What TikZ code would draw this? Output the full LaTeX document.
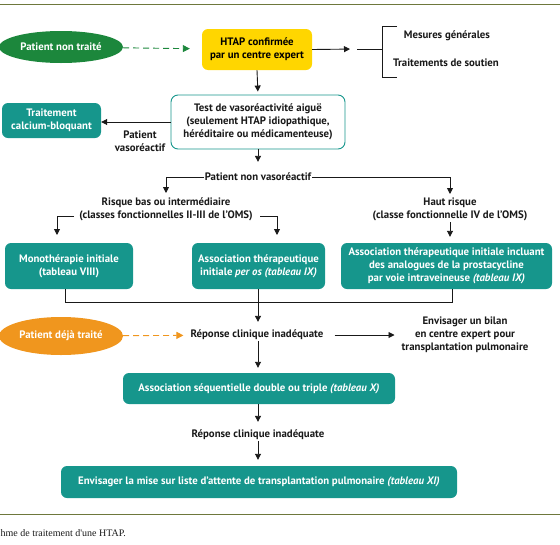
\documentclass[tikz,border=0pt]{standalone}
\usepackage{fontspec}
\setmainfont{PT Sans}
\newfontfamily\capfont{Liberation Serif}
\usetikzlibrary{shapes.geometric,arrows.meta}
\definecolor{teal}{RGB}{22,150,140}
\definecolor{htapyel}{RGB}{255,214,0}
\definecolor{dgreen}{RGB}{28,135,60}
\definecolor{orng}{RGB}{240,150,30}
\definecolor{olive}{RGB}{110,120,60}
\definecolor{ink}{RGB}{25,25,25}
\tikzset{
  base/.style={font=\bfseries\fontsize{10.8}{13}\selectfont, align=center, inner sep=1pt},
  tealbox/.style={base, fill=teal, text=white, rounded corners=6pt},
  lbl/.style={base, text=ink},
  ell/.style={base, ellipse, text=white, minimum width=124pt},
  conn/.style={draw=ink, line width=0.9pt, -{Triangle[length=6pt,width=6pt]}},
  plain/.style={draw=ink, line width=0.9pt},
}
\begin{document}
\begin{tikzpicture}[x=1pt,y=-1pt]
\useasboundingbox (0,0) rectangle (560,544);
\draw[olive, line width=0.8pt] (0,4) -- (560,4);
\draw[olive, line width=0.8pt] (0,514) -- (560,514);
\node[anchor=west, inner sep=0pt, font=\capfont\fontsize{10}{12}\selectfont, text=ink] (cap) at (0.5,533) {hme de traitement d'une HTAP.};

% top row
\node[ell, fill=dgreen, minimum height=32pt] (pnt) at (61,47) {Patient non traité};
\node[base, fill=htapyel, rounded corners=6pt, minimum width=110pt, minimum height=41pt] (htap) at (257,49.5) {HTAP confirmée\\par un centre expert};
\draw[draw=dgreen, line width=0.9pt, dashed, dash pattern=on 6pt off 4pt, -{Triangle[length=7pt,width=7pt]}, shorten >=12pt] (pnt) -- (htap);
\coordinate (brk) at (357,49);
\draw[conn, shorten >=7pt] (htap.east) -- (brk);
\draw[plain] (brk) -- (382,49);
\draw[plain] (397,26) -- (382,26) -- (382,77) -- (397,77);
\node[lbl] (mes) at (447,36) {Mesures générales};
\node[lbl] (sout) at (446,63) {Traitements de soutien};

% test
\node[base, draw=teal, line width=0.9pt, fill=white, rounded corners=7pt, minimum width=174pt, minimum height=54pt, text=ink] (test) at (258,122) {Test de vasoréactivité aiguë\\(seulement HTAP idiopathique,\\héréditaire ou médicamenteuse)};
\draw[conn, shorten >=3pt] (htap.south) -- (test.north);
\node[tealbox, minimum width=99pt, minimum height=35pt] (ccb) at (51.5,120.5) {Traitement\\calcium-bloquant};
\draw[conn] (test.west |- 0,122) -- (ccb.east |- 0,122);
\node[lbl] (pva) at (140,141) {Patient\\vasoréactif};

\node[lbl] (pnv) at (258,177) {Patient non vasoréactif};
\draw[conn, shorten >=10pt] (test.south) -- (pnv.north);

\node[lbl] (low) at (166,209.5) {Risque bas ou intermédiaire\\(classes fonctionnelles II-III de l'OMS)};
\node[lbl] (high) at (450,209.5) {Haut risque\\(classe fonctionnelle IV de l'OMS)};
\draw[conn] (pnv.west) -- (166,177) -- (166,193);
\draw[conn] (pnv.east) -- (450,177) -- (450,194);

\node[tealbox, minimum width=128pt, minimum height=46pt] (mono) at (69,266) {Monothérapie initiale\\(tableau VIII)};
\node[tealbox, minimum width=133pt, minimum height=46pt] (peros) at (258.5,266) {Association thérapeutique\\initiale \textit{per os (tableau IX)}};
\node[tealbox, minimum width=211pt, minimum height=46pt, inner sep=0pt] (haut) at (446.5,266) {Association thérapeutique initiale incluant\\des analogues de la prostacycline\\par voie intraveineuse \textit{(tableau IX)}};
\coordinate (lowL) at (74,216);
\coordinate (lowR) at (260,216);
\draw[conn, shorten >=8pt] (lowL) -- (57,216) -- (57,243);
\draw[conn, shorten >=8pt] (lowR) -- (277,216) -- (277,243);
\draw[conn, shorten >=6pt] (high.south) -- (haut.north -| high.south);

% merge
\node[lbl] (rci1) at (257,335) {Réponse clinique inadéquate};
\draw[plain] (mono.south -| 65,0) -- (65,302) -- (452,302) -- (haut.south -| 452,0);
\draw[conn, shorten >=7pt] (peros.south -| 258,0) -- (rci1.north -| 258,0);

\node[ell, fill=orng, minimum height=38pt] (pdt) at (61,336) {Patient déjà traité};
\draw[draw=orng, line width=0.9pt, dashed, dash pattern=on 6pt off 4pt, -{Triangle[length=7pt,width=7pt]}, shorten >=6pt] (pdt) -- (rci1);

\node[lbl] (bilan) at (465,334.5) {Envisager un bilan\\en centre expert pour\\transplantation pulmonaire};
\draw[conn, shorten <=10pt, shorten >=6pt] (rci1.east) -- (bilan.west |- rci1.east);

\node[tealbox, minimum width=272pt, minimum height=31pt] (asd) at (259,388.5) {Association séquentielle double ou triple \textit{(tableau X)}};
\draw[conn, shorten >=5pt] (rci1.south -| 258,0) -- (asd.north -| 258,0);

\node[lbl] (rci2) at (258,435) {Réponse clinique inadéquate};
\draw[conn, shorten >=7pt] (asd.south -| 258,0) -- (rci2.north -| 258,0);

\node[tealbox, minimum width=396pt, minimum height=32pt] (final) at (259,482) {Envisager la mise sur liste d'attente de transplantation pulmonaire \textit{(tableau XI)}};
\draw[conn, shorten >=6pt] (rci2.south -| 258,0) -- (final.north -| 258,0);
\end{tikzpicture}
\end{document}
